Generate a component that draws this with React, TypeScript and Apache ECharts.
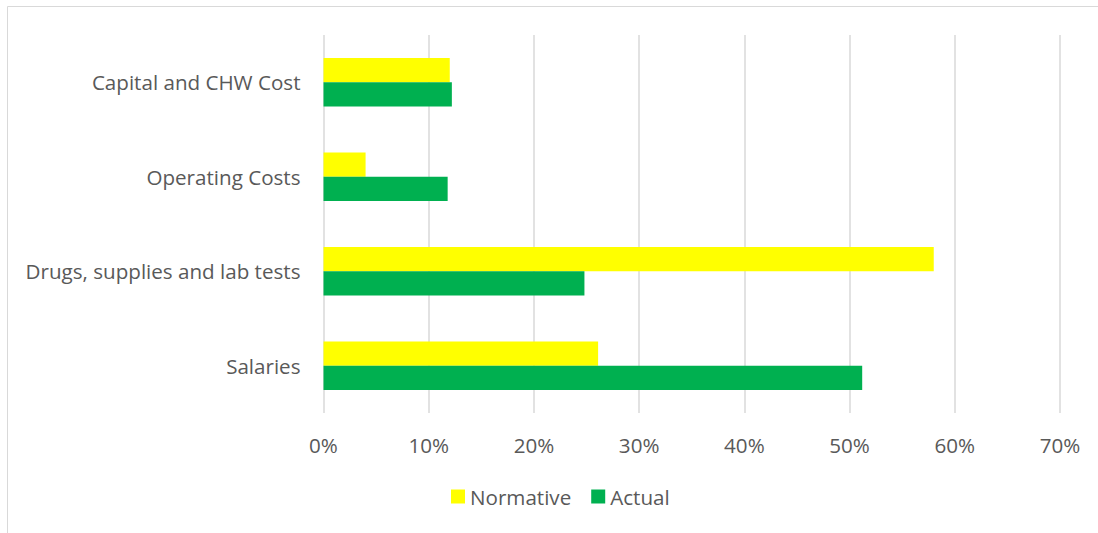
import React, { useEffect, useRef } from "react";
import * as echarts from "echarts";

const categories = ["Salaries", "Drugs, supplies and lab tests", "Operating Costs", "Capital and CHW Cost"];
const normative = [26.1, 58.0, 4.0, 12.0];
const actual = [51.2, 24.8, 11.8, 12.2];
const seriesNames = ["Normative", "Actual"];

const FONT = "Open Sans";
const TEXT = "#595959";
const FS = 20.6;

export default function App() {
  const ref = useRef<HTMLDivElement>(null);
  useEffect(() => {
    const chart = echarts.init(ref.current!, undefined, { renderer: "svg" });
    chart.setOption({
      animation: false,
      backgroundColor: "#ffffff",
      textStyle: { fontFamily: FONT },
      graphic: [
        {
          type: "rect",
          shape: { x: 7.5, y: 6.5, width: 1200, height: 600 },
          style: { fill: "none", stroke: "#d9d9d9", lineWidth: 1 },
          silent: true,
        },
      ],
      legend: {
        data: seriesNames,
        top: 481,
        left: 446,
        itemWidth: 14,
        itemHeight: 14,
        itemGap: 20,
        icon: "rect",
        textStyle: { fontFamily: FONT, fontSize: FS, color: TEXT },
      },
      grid: { left: 323.5, right: 38, top: 35, bottom: 120, containLabel: false },
      xAxis: {
        type: "value",
        min: 0,
        max: 70,
        interval: 10,
        axisLine: { show: false },
        axisTick: { show: false },
        splitLine: { lineStyle: { color: "#d9d9d9", width: 1.5 } },
        axisLabel: { formatter: "{value}%", fontFamily: FONT, fontSize: FS, color: TEXT, margin: 21 },
      },
      yAxis: {
        type: "category",
        data: categories,
        axisLine: { show: false },
        axisTick: { show: false },
        axisLabel: { fontFamily: FONT, fontSize: FS, color: TEXT, margin: 23 },
      },
      series: [
        {
          name: seriesNames[0],
          type: "bar",
          data: normative,
          itemStyle: { color: "#FFFF00" },
          barGap: "0%",
          barCategoryGap: "48.5%",
        },
        {
          name: seriesNames[1],
          type: "bar",
          data: actual,
          itemStyle: { color: "#00B050" },
          barGap: "0%",
          barCategoryGap: "48.5%",
        },
      ],
    });
    return () => chart.dispose();
  }, []);
  return (
    <div
      ref={ref}
      style={{ position: "absolute", left: 0, top: 0, width: 1098, height: 533 }}
    />
  );
}
